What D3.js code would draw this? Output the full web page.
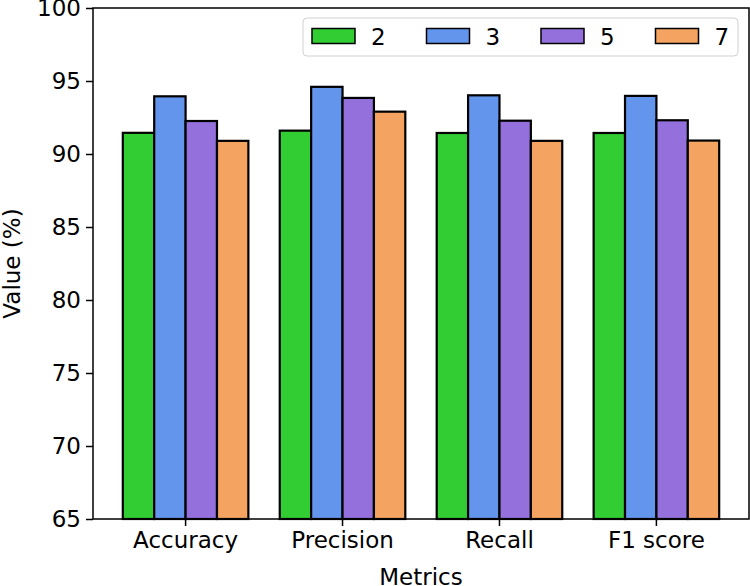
<!DOCTYPE html>
<html>
<head>
<meta charset="utf-8">
<script src="https://cdn.jsdelivr.net/npm/d3@7"></script>
<style>
  html, body { margin: 0; padding: 0; background: #fff; }
  svg text { font-family: "DejaVu Sans", sans-serif; fill: #000; }
</style>
</head>
<body>
<svg id="chart" width="750" height="586"></svg>
<script>
const categories = ["Accuracy", "Precision", "Recall", "F1 score"];
const seriesNames = ["2", "3", "5", "7"];
const seriesColors = ["#32CD32", "#6495ED", "#9370DB", "#F4A460"];
const values2 = [91.45, 91.6, 91.44, 91.44];
const values3 = [93.95, 94.6, 94.02, 93.98];
const values5 = [92.26, 93.84, 92.28, 92.31];
const values7 = [90.9, 92.9, 90.9, 90.92];
const yTicks = [65, 70, 75, 80, 85, 90, 95, 100];

const seriesValues = [values2, values3, values5, values7];
const svg = d3.select("#chart");
const margin = { left: 93, right: 1, top: 8, bottom: 67 };
const W = 750, H = 586;
const fontSize = 23;

const x = d3.scaleBand().domain(categories)
  .range([margin.left, W - margin.right])
  .paddingInner(0.2).paddingOuter(0.19);
const xInner = d3.scaleBand().domain(seriesNames).range([0, x.bandwidth()]).padding(0);
const y = d3.scaleLinear().domain([65, 100]).range([H - margin.bottom, margin.top]);

const data = [];
categories.forEach((c, i) => {
  seriesNames.forEach((s, j) => {
    data.push({ cat: c, series: s, value: seriesValues[j][i], color: seriesColors[j] });
  });
});

svg.append("g").selectAll("rect").data(data).enter().append("rect")
  .attr("x", d => x(d.cat) + xInner(d.series))
  .attr("y", d => y(d.value))
  .attr("width", xInner.bandwidth())
  .attr("height", d => y(65) - y(d.value))
  .attr("fill", d => d.color)
  .attr("stroke", "#000")
  .attr("stroke-width", 2.2);

// frame
svg.append("rect")
  .attr("x", margin.left).attr("y", margin.top)
  .attr("width", W - margin.right - margin.left)
  .attr("height", y(65) - margin.top)
  .attr("fill", "none").attr("stroke", "#000").attr("stroke-width", 1.5);

const yAxis = svg.append("g").attr("transform", `translate(${margin.left},0)`)
  .call(d3.axisLeft(y).tickValues(yTicks).tickSize(7).tickPadding(5));
const xAxis = svg.append("g").attr("transform", `translate(0,${y(65)})`)
  .call(d3.axisBottom(x).tickSize(7).tickPadding(6));
[yAxis, xAxis].forEach(a => {
  a.select(".domain").remove();
  a.selectAll("line").attr("stroke", "#000").attr("stroke-width", 1.5);
  a.selectAll("text").style("font-size", fontSize + "px").style("font-family", "DejaVu Sans, sans-serif").attr("fill", "#000");
});

svg.append("text")
  .attr("transform", `translate(20,${(margin.top + y(65)) / 2}) rotate(-90)`)
  .attr("text-anchor", "middle")
  .style("font-size", fontSize + "px")
  .text("Value (%)");

svg.append("text")
  .attr("x", (margin.left + W - margin.right) / 2)
  .attr("y", 585)
  .attr("text-anchor", "middle")
  .style("font-size", fontSize + "px")
  .text("Metrics");

// legend
const leg = svg.append("g");
leg.append("rect")
  .attr("x", 303).attr("y", 18).attr("width", 435).attr("height", 38)
  .attr("rx", 4).attr("fill", "#fff").attr("fill-opacity", 0.8)
  .attr("stroke", "#d0d0d0").attr("stroke-width", 1);
const legX = d3.scaleBand().domain(seriesNames).range([312, 312 + 4 * 114.5]);
seriesNames.forEach((s, j) => {
  const g = leg.append("g").attr("transform", `translate(${legX(s)},0)`);
  g.append("rect").attr("x", 0).attr("y", 28.5).attr("width", 43).attr("height", 15)
    .attr("fill", seriesColors[j]).attr("stroke", "#000").attr("stroke-width", 1.5);
  g.append("text").attr("x", 59).attr("y", 44.5).style("font-size", fontSize + "px").text(s);
});
</script>
</body>
</html>
